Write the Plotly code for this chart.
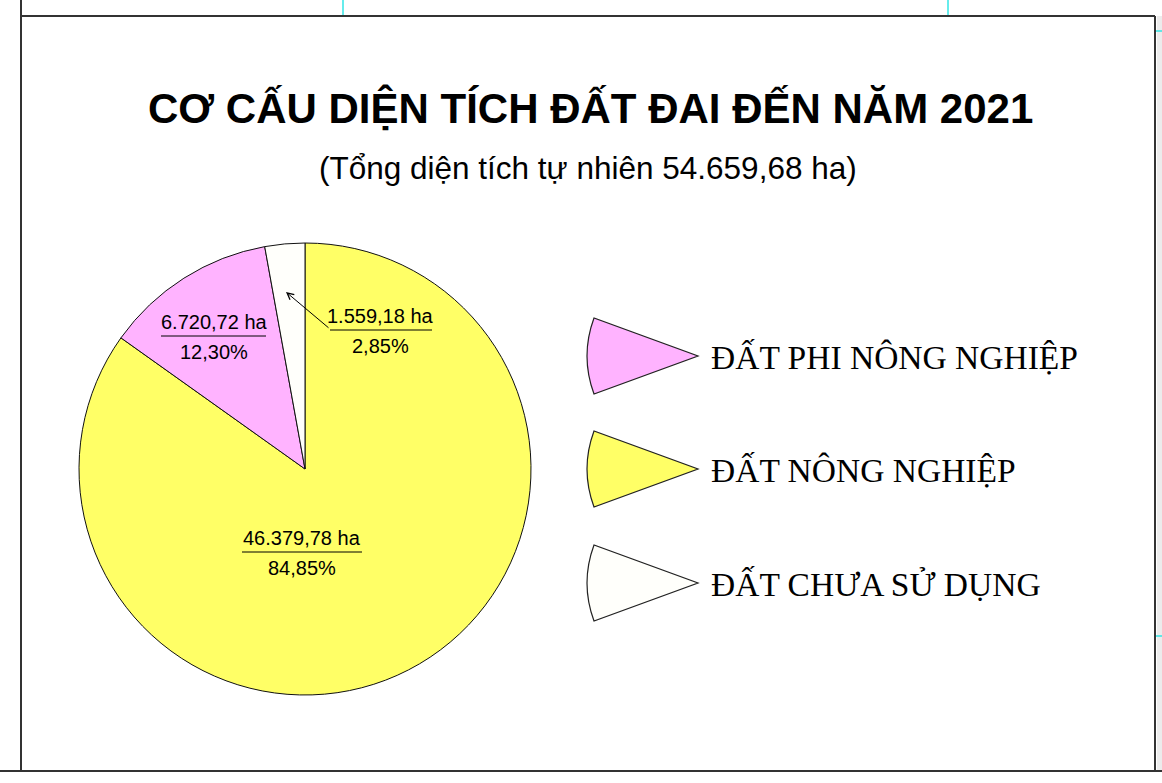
import plotly.graph_objects as go

W, H = 1162, 783

# ---------------- data ----------------
categories = ["ĐẤT NÔNG NGHIỆP", "ĐẤT PHI NÔNG NGHIỆP", "ĐẤT CHƯA SỬ DỤNG"]
areas_ha = [46379.78, 6720.72, 1559.18]
percents = [84.85, 12.30, 2.85]
legend_order = ["ĐẤT PHI NÔNG NGHIỆP", "ĐẤT NÔNG NGHIỆP", "ĐẤT CHƯA SỬ DỤNG"]
title_text = "CƠ CẤU DIỆN TÍCH ĐẤT ĐAI ĐẾN NĂM 2021"
subtitle_text = "(Tổng diện tích tự nhiên 54.659,68 ha)"

# ---------------- style ----------------
colors = {"ĐẤT NÔNG NGHIỆP": "#FFFF66",
          "ĐẤT PHI NÔNG NGHIỆP": "#FFB3FF",
          "ĐẤT CHƯA SỬ DỤNG": "#FFFFFB"}
SANS = "Liberation Sans, Arial, sans-serif"
SERIF = "Liberation Serif, Times New Roman, serif"


def vn_num(v):
    s = f"{v:,.2f}"
    return s.replace(",", "#").replace(".", ",").replace("#", ".")


fig = go.Figure()

# pie (pixel geometry: centre (305,469), radius 226)
cx, cy, r = 305, 469, 226
fig.add_trace(go.Pie(
    labels=categories, values=areas_ha, sort=False, direction="clockwise",
    rotation=0, textinfo="none", hoverinfo="label+value+percent",
    marker=dict(colors=[colors[c] for c in categories],
                line=dict(color="#111111", width=1)),
    domain=dict(x=[(cx - r) / W, (cx + r) / W], y=[1 - (cy + r) / H, 1 - (cy - r) / H]),
    showlegend=False,
))

# invisible pixel axes for decorations
fig.add_trace(go.Scatter(x=[0, W], y=[0, H], mode="markers",
                         marker=dict(opacity=0), hoverinfo="skip", showlegend=False))

shapes = []
annotations = []

# slice labels (value over percentage, with separator line)
label_pos = {"ĐẤT NÔNG NGHIỆP": (302, 538, 242, 362),
             "ĐẤT PHI NÔNG NGHIỆP": (214, 322, 161, 266),
             "ĐẤT CHƯA SỬ DỤNG": (380, 316, 330, 432)}
for cat, a, p in zip(categories, areas_ha, percents):
    lx, ly, x0, x1 = label_pos[cat]
    annotations.append(dict(x=lx, y=ly, xref="x", yref="y", showarrow=False,
                            text=f"{vn_num(a)} ha", font=dict(family=SANS, size=20, color="#000")))
    annotations.append(dict(x=lx, y=ly + 30, xref="x", yref="y", showarrow=False,
                            text=f"{p:.2f}".replace(".", ",") + "%",
                            font=dict(family=SANS, size=20, color="#000")))
    shapes.append(dict(type="line", xref="x", yref="y", x0=x0, x1=x1, y0=ly + 14, y1=ly + 14,
                       line=dict(color="#000", width=1)))

# arrow for small slice
annotations.append(dict(x=286, y=292, xref="x", yref="y", ax=330, ay=329, axref="x", ayref="y",
                        showarrow=True, arrowhead=5, arrowsize=1.3, arrowwidth=1,
                        arrowcolor="#000", text=""))

# legend wedges
legend_y = [356, 469, 583]
for name, ly in zip(legend_order, legend_y):
    path = (f"M 594 {ly-38} Q 580 {ly} 594 {ly+38} L 698 {ly} Z")
    shapes.append(dict(type="path", xref="x", yref="y", path=path,
                       fillcolor=colors[name], line=dict(color="#222", width=1.2)))
    annotations.append(dict(x=709, y=ly + 1, xref="x", yref="y", xanchor="left", showarrow=False,
                            text=name, font=dict(family=SERIF, size=33.5, color="#000")))

# titles
annotations.append(dict(x=590, y=108, xref="x", yref="y", showarrow=False, text=f"<b>{title_text}</b>",
                        font=dict(family=SANS, size=42, color="#000")))
annotations.append(dict(x=588, y=168, xref="x", yref="y", showarrow=False, text=subtitle_text,
                        font=dict(family=SANS, size=31.5, color="#000")))

# frame and crop marks
frame = "#333333"
shapes += [
    dict(type="rect", xref="x", yref="y", x0=1157, x1=1162, y0=16, y1=771,
         fillcolor="#ececec", line=dict(width=0), layer="below"),
    dict(type="line", xref="x", yref="y", x0=21, x1=21, y0=0, y1=771, line=dict(color=frame, width=2)),
    dict(type="line", xref="x", yref="y", x0=21, x1=1155, y0=16, y1=16, line=dict(color=frame, width=2)),
    dict(type="line", xref="x", yref="y", x0=1155, x1=1155, y0=16, y1=771, line=dict(color=frame, width=2)),
    dict(type="line", xref="x", yref="y", x0=0, x1=1162, y0=771, y1=771, line=dict(color=frame, width=2)),
    dict(type="line", xref="x", yref="y", x0=343, x1=343, y0=0, y1=15, line=dict(color="#33e6e6", width=1.5)),
    dict(type="line", xref="x", yref="y", x0=948, x1=948, y0=0, y1=15, line=dict(color="#33e6e6", width=1.5)),
    dict(type="line", xref="x", yref="y", x0=1156, x1=1162, y0=31, y1=31, line=dict(color="#33e6e6", width=1.5)),
    dict(type="line", xref="x", yref="y", x0=1156, x1=1162, y0=636, y1=636, line=dict(color="#33e6e6", width=1.5)),
]

fig.update_layout(
    width=W, height=H, margin=dict(l=0, r=0, t=0, b=0),
    paper_bgcolor="white", plot_bgcolor="rgba(0,0,0,0)",
    xaxis=dict(range=[0, W], visible=False, fixedrange=True),
    yaxis=dict(range=[H, 0], visible=False, fixedrange=True),
    shapes=shapes, annotations=annotations, showlegend=False,
)

fig.write_html("out.html", config={"displayModeBar": False},
               post_script="document.body.style.margin='0';document.body.style.overflow='hidden';")
